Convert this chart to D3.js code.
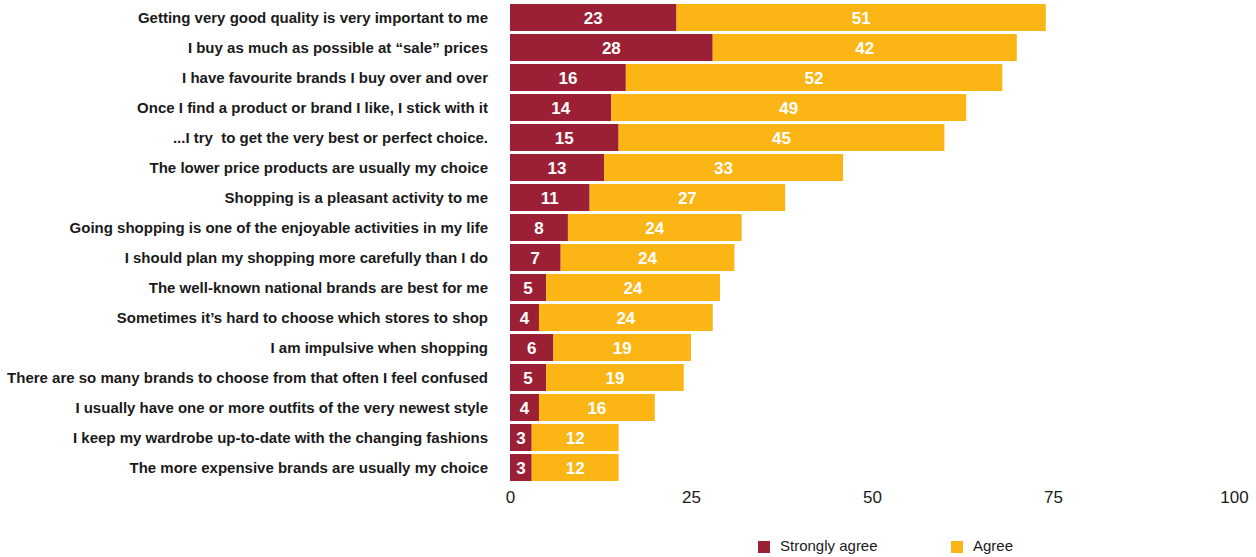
<!DOCTYPE html>
<html>
<head>
<meta charset="utf-8">
<script src="https://cdn.jsdelivr.net/npm/d3@7"></script>
<style>
  html, body { margin: 0; padding: 0; background: #fff; }
  svg { display: block; font-family: "Liberation Sans", Arial, Helvetica, sans-serif; }
  .cat { white-space: pre; }
</style>
</head>
<body>
<svg id="chart" width="1256" height="557"></svg>
<script>
// Survey statements, shown top to bottom
const statements = [
  "Getting very good quality is very important to me",
  "I buy as much as possible at \u201csale\u201d prices",
  "I have favourite brands I buy over and over",
  "Once I find a product or brand I like, I stick with it",
  "...I try  to get the very best or perfect choice.",
  "The lower price products are usually my choice",
  "Shopping is a pleasant activity to me",
  "Going shopping is one of the enjoyable activities in my life",
  "I should plan my shopping more carefully than I do",
  "The well-known national brands are best for me",
  "Sometimes it\u2019s hard to choose which stores to shop",
  "I am impulsive when shopping",
  "There are so many brands to choose from that often I feel confused",
  "I usually have one or more outfits of the very newest style",
  "I keep my wardrobe up-to-date with the changing fashions",
  "The more expensive brands are usually my choice"
];
const stronglyAgree = [23, 28, 16, 14, 15, 13, 11, 8, 7, 5, 4, 6, 5, 4, 3, 3];
const agree         = [51, 42, 52, 49, 45, 33, 27, 24, 24, 24, 24, 19, 19, 16, 12, 12];
const seriesNames = ["Strongly agree", "Agree"];
const seriesColors = ["#9b1f35", "#fbb615"];
const tickValues = [0, 25, 50, 75, 100];

const svg = d3.select("#chart");

const x = d3.scaleLinear().domain([0, 100]).range([510, 1234]);
const y = d3.scaleBand().domain(statements).range([2.5, 482.5])
  .paddingInner(0.1).paddingOuter(0.05);

const rows = statements.map((s, i) => ({ s, v: [stronglyAgree[i], agree[i]] }));
const segs = [];
rows.forEach(r => {
  let acc = 0;
  r.v.forEach((v, k) => { segs.push({ s: r.s, k, x0: acc, x1: acc + v, v }); acc += v; });
});

// stacked bars
svg.append("g").selectAll("rect").data(segs).join("rect")
  .attr("x", d => x(d.x0))
  .attr("y", d => y(d.s))
  .attr("width", d => x(d.x1) - x(d.x0))
  .attr("height", y.bandwidth())
  .attr("fill", d => seriesColors[d.k]);

// value labels inside segments
svg.append("g").selectAll("text").data(segs).join("text")
  .attr("x", d => (x(d.x0) + x(d.x1)) / 2)
  .attr("y", d => y(d.s) + y.bandwidth() / 2)
  .attr("dy", "0.36em")
  .attr("text-anchor", "middle")
  .attr("fill", "#fff")
  .attr("font-weight", "bold")
  .attr("font-size", 17)
  .text(d => d.v);

// category labels
svg.append("g").selectAll("text").data(statements).join("text")
  .attr("class", "cat")
  .attr("x", 488)
  .attr("y", d => y(d) + y.bandwidth() / 2)
  .attr("dy", "0.36em")
  .attr("text-anchor", "end")
  .attr("fill", "#1a1a1a")
  .attr("font-weight", "bold")
  .attr("font-size", 15)
  .text(d => d);

// x axis (labels only)
const xAxis = svg.append("g")
  .attr("transform", "translate(0,485)")
  .call(d3.axisBottom(x).tickValues(tickValues).tickSize(0).tickPadding(6).tickFormat(d3.format("d")));
xAxis.select(".domain").remove();
xAxis.selectAll("text")
  .attr("font-size", 17)
  .attr("fill", "#1a1a1a")
  .attr("font-family", "\"Liberation Sans\", Arial, sans-serif");

// legend
const legendX = [758, 951];
const legend = svg.append("g").selectAll("g").data(seriesNames).join("g")
  .attr("transform", (d, i) => `translate(${legendX[i]},540)`);
legend.append("rect")
  .attr("width", 12).attr("height", 12)
  .attr("y", 1)
  .attr("fill", (d, i) => seriesColors[i]);
legend.append("text")
  .attr("x", 22).attr("y", 6)
  .attr("dy", "0.36em")
  .attr("font-size", 15)
  .attr("fill", "#1a1a1a")
  .text(d => d);
</script>
</body>
</html>
